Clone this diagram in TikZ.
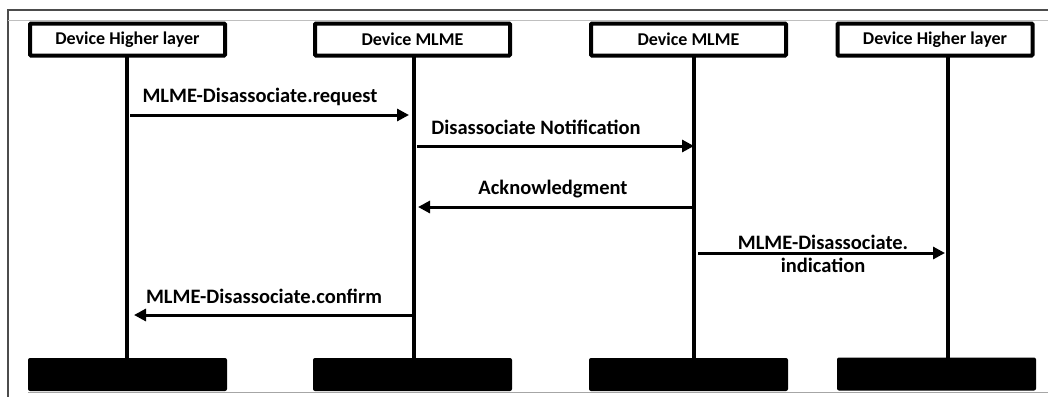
\documentclass[tikz,border=0pt]{standalone}
\usepackage{fontspec}
\setmainfont{Carlito}
\usetikzlibrary{arrows.meta}
\tikzset{
  head/.style={draw=black, line width=4pt, rounded corners=1pt, fill=white,
    minimum width=195pt, minimum height=32pt, inner sep=0pt,
    font=\fontsize{18}{20}\selectfont\bfseries},
  foot/.style={fill=black, rounded corners=2pt, minimum width=199pt,
    minimum height=33pt, inner sep=0pt},
  life/.style={line width=3.5pt},
  msg/.style={line width=3pt, -{Triangle[length=12pt,width=12pt]}},
  lbl/.style={font=\fontsize{20.5}{23}\selectfont\bfseries, inner sep=0pt, align=center},
}
\begin{document}
\begin{tikzpicture}[x=1pt, y=-1pt]
\useasboundingbox (0,0) rectangle (1048,397);
% surrounding frame
\draw[draw=black!70, line width=1.5pt] (1048,10) -- (8,10) -- (8,397);
\draw[draw=black!25, line width=0.8pt] (8,20) -- (1048,20);
\draw[draw=black!35, line width=1pt] (28,392) -- (1048,392);

% participants
\node[head] (h1) at (127.5,39.5) {Device Higher layer};
\node[head] (h2) at (412.5,39.5) {Device MLME};
\node[head] (h3) at (688.5,39.5) {Device MLME};
\node[head] (h4) at (935,39.5) {Device Higher layer};

\node[foot] (f1) at (127.5,374.5) {};
\node[foot] (f2) at (412.5,374.5) {};
\node[foot] (f3) at (688.5,374.5) {};
\node[foot] (f4) at (936.5,374) {};

% lifelines
\coordinate (t1) at (127,57); \coordinate (b1) at (127,359);
\coordinate (t2) at (414,57); \coordinate (b2) at (414,359);
\coordinate (t3) at (694,57); \coordinate (b3) at (694,359);
\coordinate (t4) at (948,57); \coordinate (b4) at (948,359);
\draw[life] (t1) -- (b1);
\draw[life] (t2) -- (b2);
\draw[life] (t3) -- (b3);
\draw[life] (t4) -- (b4);

% message end points
\coordinate (m1s) at (130,115); \coordinate (m1e) at (409,115);
\coordinate (m2s) at (417,146); \coordinate (m2e) at (694,146);
\coordinate (m3s) at (693,207); \coordinate (m3e) at (418,207);
\coordinate (m4s) at (698,253); \coordinate (m4e) at (945,253);
\coordinate (m5s) at (415,315); \coordinate (m5e) at (134,315);

\draw[msg] (m1s) -- (m1e);
\draw[msg] (m2s) -- (m2e);
\draw[msg] (m3s) -- (m3e);
\draw[msg] (m4s) -- (m4e);
\draw[msg] (m5s) -- (m5e);

% message labels
\node[lbl] (l1) at (260,97) {MLME-Disassociate.request};
\node[lbl] (l2) at (536,127) {Disassociate Notification};
\node[lbl] (l3) at (553,189) {Acknowledgment};
\node[lbl] (l4) at (823,254) {MLME-Disassociate.\\indication};
\node[lbl] (l5) at (264,296) {MLME-Disassociate.confirm};
\end{tikzpicture}
\end{document}
